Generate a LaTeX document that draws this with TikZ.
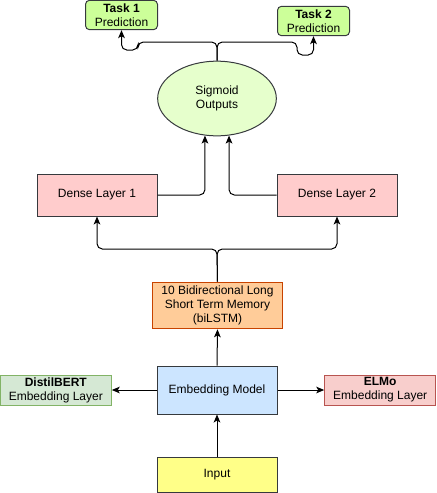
\documentclass[tikz,border=0pt]{standalone}
\usepackage{fontspec}
\setmainfont{Liberation Sans}
\usetikzlibrary{arrows.meta,shapes.geometric}

\definecolor{edgegray}{HTML}{36393D}
\definecolor{taskfill}{HTML}{CCFF99}
\definecolor{sigfill}{HTML}{E6FFCC}
\definecolor{densefill}{HTML}{FFCCCC}
\definecolor{lstmfill}{HTML}{FFCC99}
\definecolor{lstmdraw}{HTML}{C84300}
\definecolor{embfill}{HTML}{CCE5FF}
\definecolor{bertfill}{HTML}{D5E8D4}
\definecolor{bertdraw}{HTML}{82B366}
\definecolor{elmofill}{HTML}{F8CECC}
\definecolor{elmodraw}{HTML}{B85450}
\definecolor{inputfill}{HTML}{FFFF88}

\tikzset{
  box/.style={draw=edgegray, line width=0.75pt, align=center, inner sep=1pt, font=\fontsize{9}{10.5}\selectfont},
  taskbox/.style={box, fill=taskfill, rounded corners=3pt, minimum width=54pt, minimum height=22pt},
  densebox/.style={box, fill=densefill, minimum width=90pt, minimum height=31.5pt},
  embbox/.style={box, minimum width=83.25pt, minimum height=22.5pt},
  conn/.style={line width=0.75pt, rounded corners=4pt, -{Stealth[length=6pt,width=5pt,inset=1.5pt]}},
}

\begin{document}
\begin{tikzpicture}[x=0.75pt,y=0.75pt,yscale=-1,xscale=1]
        \useasboundingbox (0,0) rectangle (436,493);

        %Shape: Task boxes
        \node [taskbox] (task1) at (121.5,15) {\textbf{Task 1}\\Prediction};
        \node [taskbox] (task2) at (313.5,21) {\textbf{Task 2}\\Prediction};
        %Shape: Ellipse
        \node [box, ellipse, fill=sigfill, minimum width=89pt, minimum height=56pt] (sig) at (217,98.5) {Sigmoid\\Outputs};
        %Shape: Dense layers
        \node [densebox] (dense1) at (97,195) {Dense Layer 1};
        \node [densebox] (dense2) at (337,195) {Dense Layer 2};
        %Shape: biLSTM
        \node [box, draw=lstmdraw, fill=lstmfill, minimum width=98pt, minimum height=35pt] (lstm) at (217.5,305.5) {10 Bidirectional Long\\Short Term Memory\\(biLSTM)};
        %Shape: Embedding
        \node [box, fill=embfill, minimum width=90pt, minimum height=36pt] (emb) at (217,390) {Embedding Model};
        \node [embbox, draw=bertdraw, fill=bertfill] (bert) at (55.8,390) {\textbf{DistilBERT}\\Embedding Layer};
        \node [embbox, draw=elmodraw, fill=elmofill] (elmo) at (380.2,390) {\textbf{ELMo}\\Embedding Layer};
        %Shape: Input
        \node [box, fill=inputfill, minimum width=90pt, minimum height=26.5pt] (input) at (217,474.8) {Input};

        % waypoints
        \coordinate (topfork) at (217,42);
        \coordinate (lstmfork) at (217,249);

        %Straight Lines
        \draw [conn] (input.north) -- (emb.south);
        \draw [conn] (emb.west) -- (bert.east);
        \draw [conn] (emb.east) -- (elmo.west);
        \draw [conn] (emb.north) -- (lstm.south);
        \draw [conn] (lstm.north) -- (lstmfork) -| (dense1.south);
        \draw [conn] (lstm.north) -- (lstmfork) -| (dense2.south);
        \draw [conn] (dense1.east) -| (sig.-108);
        \draw [conn] (dense2.west) -| (sig.-72);
        \draw [conn] (sig.north) -- (topfork) -- (138,42) -- (138,50) -| (task1.south);
        \draw [conn] (sig.north) -- (topfork) -- (297,42) -- (297,55) -| (task2.south);

    \end{tikzpicture}
\end{document}
